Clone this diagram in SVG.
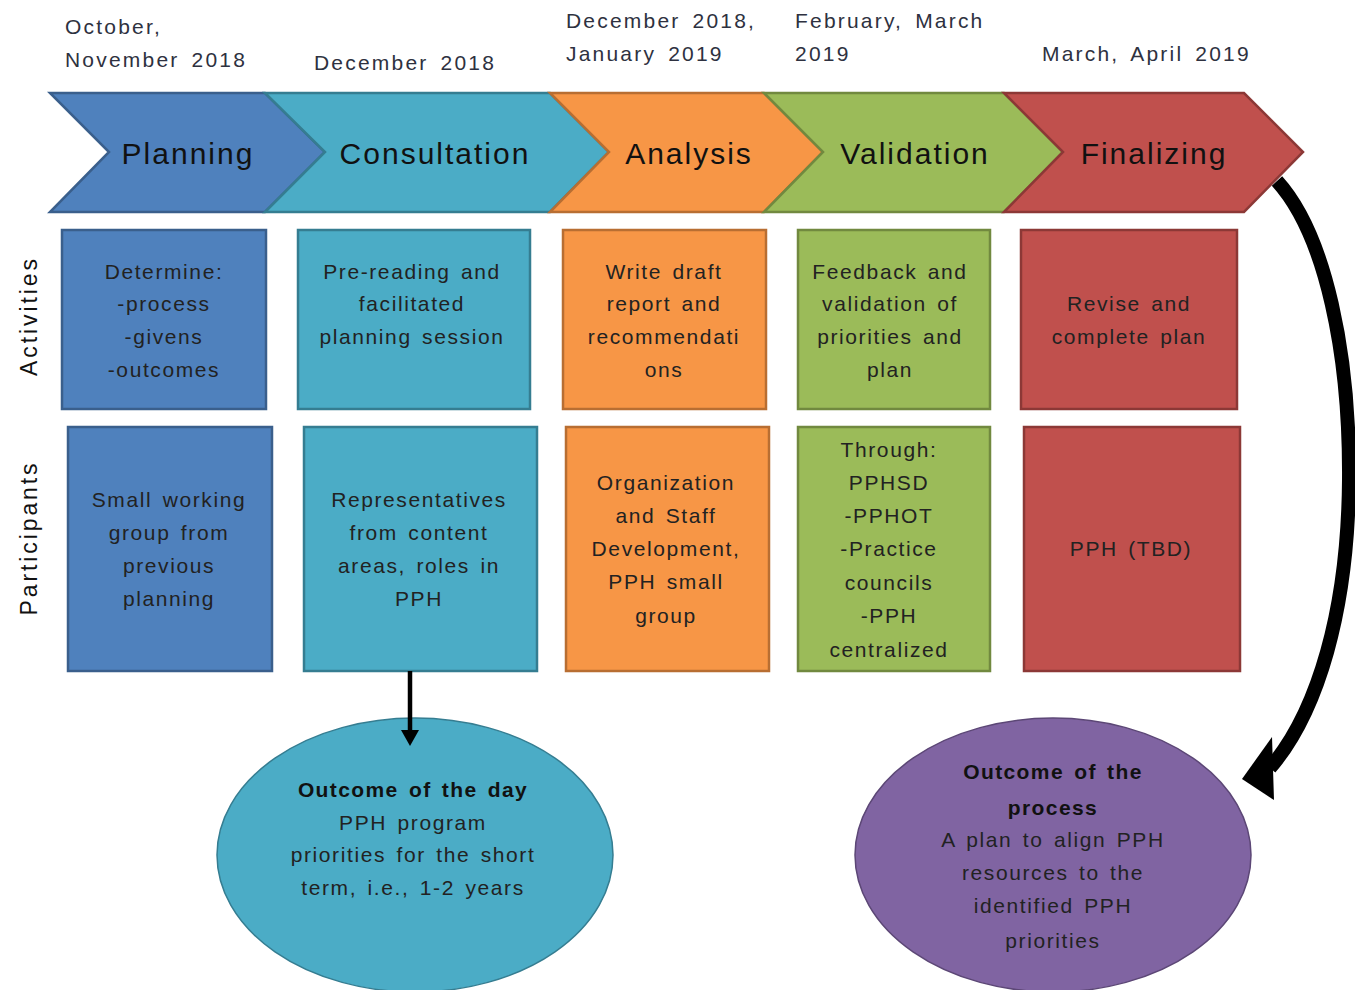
<svg xmlns="http://www.w3.org/2000/svg" width="1355" height="990" viewBox="0 0 1355 990">
<defs>
<style>
.date{font-family:"Liberation Sans",Arial,sans-serif;font-size:21px;fill:#2e3140;letter-spacing:2.2px;word-spacing:4px}
.stage{font-family:"Liberation Sans",Arial,sans-serif;font-size:30px;fill:#111;letter-spacing:2px;text-anchor:middle}
.t{font-family:"Liberation Sans",Arial,sans-serif;font-size:21px;fill:#222;letter-spacing:1.6px;word-spacing:3px;text-anchor:middle}
.b{font-weight:bold;fill:#111;letter-spacing:1.4px}
.side{font-family:"Liberation Sans",Arial,sans-serif;font-size:23px;fill:#111;letter-spacing:2.9px;text-anchor:middle}
.blue{fill:#4F81BD;stroke:#3A5F8C;stroke-width:2.5}
.teal{fill:#4BACC6;stroke:#357D91;stroke-width:2.5}
.orange{fill:#F79646;stroke:#B86E32;stroke-width:2.5}
.green{fill:#9BBB59;stroke:#71893F;stroke-width:2.5}
.red{fill:#C0504D;stroke:#8C3836;stroke-width:2.5}
.purple{fill:#8064A2;stroke:#5C4776;stroke-width:1.5}
</style>
</defs>
<rect width="1355" height="990" fill="#fff"/>

<g id="dates">
<text class="date" x="65" y="34">October,</text>
<text class="date" x="65" y="67">November 2018</text>
<text class="date" x="314" y="70">December 2018</text>
<text class="date" x="566" y="28">December 2018,</text>
<text class="date" x="566" y="61">January 2019</text>
<text class="date" x="795" y="28">February, March</text>
<text class="date" x="795" y="61">2019</text>
<text class="date" x="1042" y="61">March, April 2019</text>
</g>

<g id="stage-planning">
<polygon class="blue" points="50,93 265,93 325,152 265,212 50,212 109,152"/>
<text class="stage" x="188" y="164">Planning</text>
</g>
<g id="stage-consultation">
<polygon class="teal" points="265,93 550,93 609,152 550,212 265,212 325,152"/>
<text class="stage" x="435" y="164">Consultation</text>
</g>
<g id="stage-analysis">
<polygon class="orange" points="550,93 764,93 823,152 764,212 550,212 609,152"/>
<text class="stage" x="689" y="164">Analysis</text>
</g>
<g id="stage-validation">
<polygon class="green" points="764,93 1004,93 1063,152 1004,212 764,212 823,152"/>
<text class="stage" x="915" y="164">Validation</text>
</g>
<g id="stage-finalizing">
<polygon class="red" points="1004,93 1244,93 1303,152 1244,212 1004,212 1063,152"/>
<text class="stage" x="1154" y="164">Finalizing</text>
</g>

<g id="label-activities">
<text class="side" transform="translate(37,316) rotate(-90)">Activities</text>
</g>
<g id="label-participants">
<text class="side" transform="translate(37,538) rotate(-90)">Participants</text>
</g>

<g id="act-planning">
<rect class="blue" x="62" y="230" width="204" height="179"/>
<text class="t" x="164" y="279">Determine:</text>
<text class="t" x="164" y="311">-process</text>
<text class="t" x="164" y="344">-givens</text>
<text class="t" x="164" y="377">-outcomes</text>
</g>
<g id="act-consultation">
<rect class="teal" x="298" y="230" width="232" height="179"/>
<text class="t" x="412" y="279">Pre-reading and</text>
<text class="t" x="412" y="311">facilitated</text>
<text class="t" x="412" y="344">planning session</text>
</g>
<g id="act-analysis">
<rect class="orange" x="563" y="230" width="203" height="179"/>
<text class="t" x="664" y="279">Write draft</text>
<text class="t" x="664" y="311">report and</text>
<text class="t" x="664" y="344">recommendati</text>
<text class="t" x="664" y="377">ons</text>
</g>
<g id="act-validation">
<rect class="green" x="798" y="230" width="192" height="179"/>
<text class="t" x="890" y="279">Feedback and</text>
<text class="t" x="890" y="311">validation of</text>
<text class="t" x="890" y="344">priorities and</text>
<text class="t" x="890" y="377">plan</text>
</g>
<g id="act-finalizing">
<rect class="red" x="1021" y="230" width="216" height="179"/>
<text class="t" x="1129" y="311">Revise and</text>
<text class="t" x="1129" y="344">complete plan</text>
</g>

<g id="part-planning">
<rect class="blue" x="68" y="427" width="204" height="244"/>
<text class="t" x="169" y="507">Small working</text>
<text class="t" x="169" y="540">group from</text>
<text class="t" x="169" y="573">previous</text>
<text class="t" x="169" y="606">planning</text>
</g>
<g id="part-consultation">
<rect class="teal" x="304" y="427" width="233" height="244"/>
<text class="t" x="419" y="507">Representatives</text>
<text class="t" x="419" y="540">from content</text>
<text class="t" x="419" y="573">areas, roles in</text>
<text class="t" x="419" y="606">PPH</text>
</g>
<g id="part-analysis">
<rect class="orange" x="566" y="427" width="203" height="244"/>
<text class="t" x="666" y="490">Organization</text>
<text class="t" x="666" y="523">and Staff</text>
<text class="t" x="666" y="556">Development,</text>
<text class="t" x="666" y="589">PPH small</text>
<text class="t" x="666" y="623">group</text>
</g>
<g id="part-validation">
<rect class="green" x="798" y="427" width="192" height="244"/>
<text class="t" x="889" y="457">Through:</text>
<text class="t" x="889" y="490">PPHSD</text>
<text class="t" x="889" y="523">-PPHOT</text>
<text class="t" x="889" y="556">-Practice</text>
<text class="t" x="889" y="590">councils</text>
<text class="t" x="889" y="623">-PPH</text>
<text class="t" x="889" y="657">centralized</text>
</g>
<g id="part-finalizing">
<rect class="red" x="1024" y="427" width="216" height="244"/>
<text class="t" x="1131" y="556">PPH (TBD)</text>
</g>

<g id="outcome-day">
<ellipse class="teal" style="stroke-width:1.5" cx="415" cy="855" rx="198" ry="137"/>
<text class="t b" x="413" y="797">Outcome of the day</text>
<text class="t" x="413" y="830">PPH program</text>
<text class="t" x="413" y="862">priorities for the short</text>
<text class="t" x="413" y="895">term, i.e., 1-2 years</text>
</g>
<g id="outcome-process">
<ellipse class="purple" cx="1053" cy="855" rx="198" ry="137"/>
<text class="t b" x="1053" y="779">Outcome of the</text>
<text class="t b" x="1053" y="815">process</text>
<text class="t" x="1053" y="847">A plan to align PPH</text>
<text class="t" x="1053" y="880">resources to the</text>
<text class="t" x="1053" y="913">identified PPH</text>
<text class="t" x="1053" y="948">priorities</text>
</g>

<g id="connectors">
<line x1="410" y1="671" x2="410" y2="733" stroke="#000" stroke-width="4.5"/>
<polygon points="401,730 419,730 410,746" fill="#000"/>
<path d="M1277,181 C1326,235 1350,355 1349,480 C1348,610 1318,712 1270,768" fill="none" stroke="#000" stroke-width="14"/>
<polygon points="1242,779 1272,737 1274,800" fill="#000"/>
</g>
</svg>
